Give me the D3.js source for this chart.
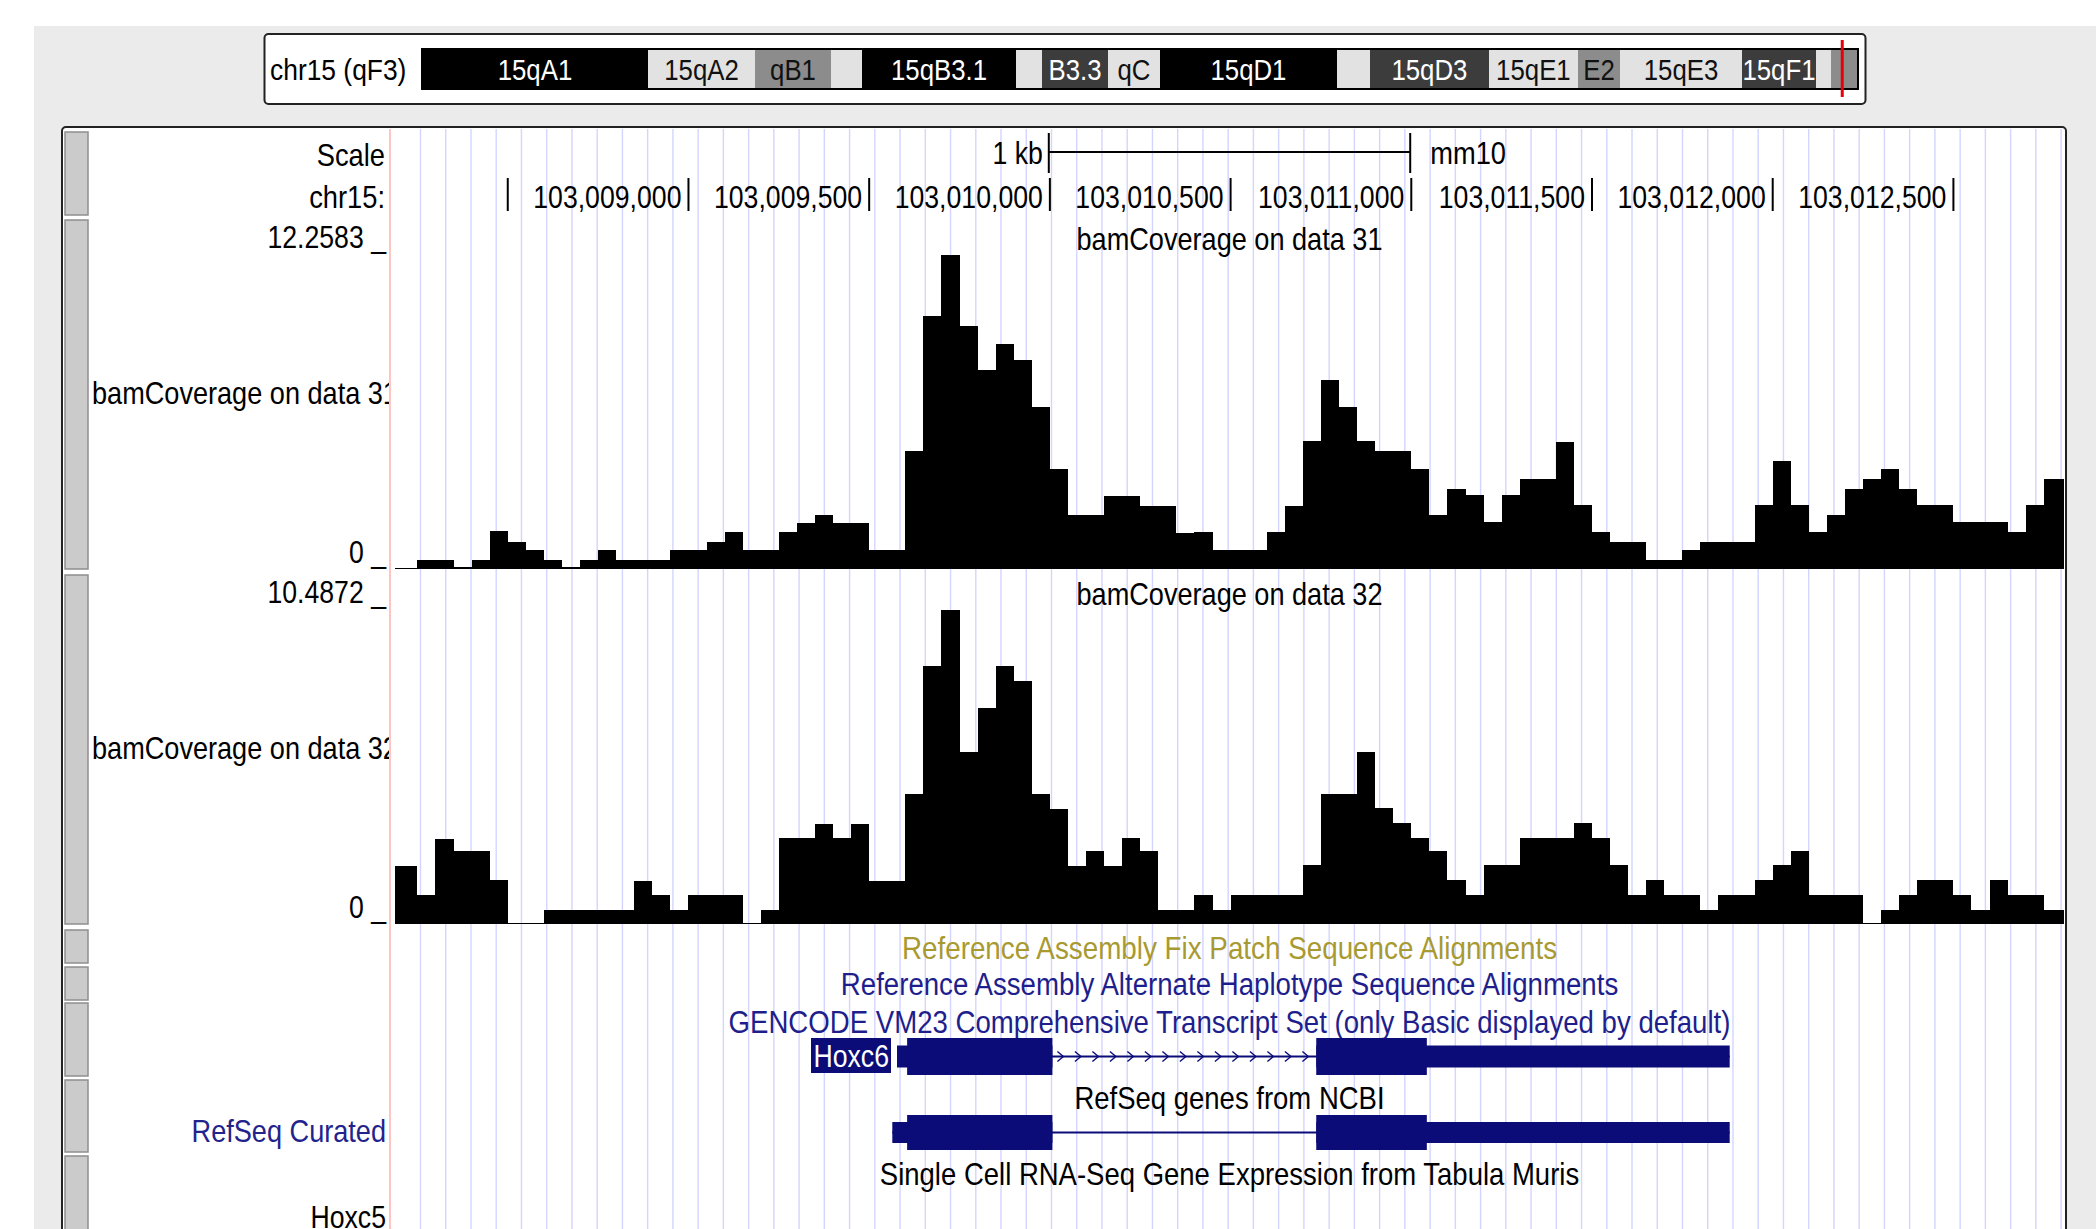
<!DOCTYPE html>
<html><head><meta charset="utf-8">
<script src="https://cdn.jsdelivr.net/npm/d3@7"></script>
<style>html,body{margin:0;padding:0;background:#fff;}svg{display:block;}</style>
</head><body>
<svg id="chart" width="2096" height="1229"></svg>
<script>
// ---------------- data ----------------
const chromName = "chr15 (qF3)";
const chromLenMb = 104.043685;
const bandNames  = ["15qA1","15qA2","qB1","","15qB3.1","","B3.3","qC","15qD1","","15qD3","15qE1","E2","15qE3","15qF1","",""];
const bandStart  = [0, 16.37, 24.13, 29.63, 31.88, 43.04, 44.92, 49.70, 53.47, 66.29, 68.68, 77.30, 83.75, 86.80, 95.64, 101.0, 102.08];
const bandEnd    = [16.37, 24.13, 29.63, 31.88, 43.04, 44.92, 49.70, 53.47, 66.29, 68.68, 77.30, 83.75, 86.80, 95.64, 101.0, 102.08, 104.043685];
const bandStain  = ["gpos100","gneg","gpos50","gneg","gpos100","gneg","gpos75","gneg","gpos100","gneg","gpos75","gneg","gpos50","gneg","gpos75","gneg","gpos50"];

const viewStart = 103008188, viewEnd = 103012806;
const rulerTicks  = [103008500,103009000,103009500,103010000,103010500,103011000,103011500,103012000,103012500];
const rulerLabels = ["","103,009,000","103,009,500","103,010,000","103,010,500","103,011,000","103,011,500","103,012,000","103,012,500"];

const binFirstStart = 103008150, binSize = 50;
const cov31 = [0.05,0.05,0.36,0.36,0.07,0.36,1.47,1.04,0.73,0.36,0.07,0.36,0.75,0.36,0.36,0.36,0.75,0.75,1.04,1.43,
  0.75,0.75,1.43,1.79,2.11,1.79,1.79,0.75,0.75,4.59,9.86,12.2583,9.49,7.75,8.79,8.14,6.31,3.91,2.09,2.09,
  2.86,2.86,2.47,2.47,1.40,1.43,0.75,0.75,0.75,1.43,2.47,4.98,7.36,6.32,4.98,4.59,4.59,3.90,2.09,3.13,
  2.87,1.82,2.87,3.52,3.52,4.95,2.48,1.43,1.04,1.04,0.36,0.36,0.75,1.04,1.04,1.04,2.48,4.20,2.48,1.43,
  2.09,3.13,3.52,3.91,3.13,2.48,2.48,1.82,1.82,1.82,1.43,2.48,3.52,3.52];
const cov32 = [1.94,1.94,0.97,2.83,2.44,2.44,1.47,0.05,0.05,0.47,0.47,0.47,0.47,0.47,1.45,0.97,0.47,0.97,0.97,0.97,
  0.05,0.47,2.86,2.86,3.34,2.86,3.34,1.45,1.45,4.33,8.61,10.4872,5.73,7.22,8.61,8.12,4.33,3.84,1.95,2.44,
  1.95,2.86,2.44,0.47,0.47,0.97,0.47,0.97,0.97,0.97,0.97,1.97,4.34,4.34,5.73,3.86,3.36,2.86,2.45,1.47,
  0.97,1.97,1.97,2.86,2.86,2.86,3.36,2.86,1.97,0.97,1.47,0.97,0.97,0.47,0.97,0.97,1.47,1.97,2.45,0.97,
  0.97,0.97,0.05,0.47,0.97,1.47,1.47,0.97,0.47,1.47,0.97,0.97,0.47,0.47];
const trackTitles = ["bamCoverage on data 31","bamCoverage on data 32"];
const trackMaxLabels = ["12.2583","10.4872"];
const trackMax = [12.2583, 10.4872];

const geneName = "Hoxc6";
const gencodeTx = [103009577, 103011881];
const refseqTx  = [103009564, 103011881];
const geneCds   = [103009605, 103011043];
const geneExons = [[103009564, 103010007],[103010737, 103011881]];

const centerLabels = ["Reference Assembly Fix Patch Sequence Alignments",
  "Reference Assembly Alternate Haplotype Sequence Alignments",
  "GENCODE VM23 Comprehensive Transcript Set (only Basic displayed by default)",
  "RefSeq genes from NCBI",
  "Single Cell RNA-Seq Gene Expression from Tabula Muris"];

// ---------------- drawing ----------------
const FONT = "'Liberation Sans', Arial, Helvetica, sans-serif";
const SX = 0.86;
const NAVY = "#0c0c78";
const svg = d3.select("#chart");

function txt(parent, x, y, s, o = {}) {
  return parent.append("text")
    .attr("transform", `translate(${x},${y}) scale(${o.sx || SX},1)`)
    .attr("font-family", FONT)
    .attr("font-size", o.size || 31)
    .attr("text-anchor", o.anchor || "start")
    .attr("fill", o.fill || "#000")
    .text(s);
}

// page background
svg.append("rect").attr("width", 2096).attr("height", 1229).attr("fill", "#fff");
svg.append("rect").attr("x", 34).attr("y", 26).attr("width", 2062).attr("height", 1203).attr("fill", "#ebebeb");

// ---- ideogram ----
const ideo = svg.append("g");
ideo.append("rect").attr("x", 264.5).attr("y", 34).attr("width", 1601).attr("height", 70)
  .attr("rx", 4).attr("fill", "#fff").attr("stroke", "#222").attr("stroke-width", 2);
txt(ideo, 270, 80, chromName, {size: 30, sx: 0.88});
const xb = d3.scaleLinear().domain([0, chromLenMb]).range([422, 1858]);
const stainFill = {gpos100: "#000", gpos75: "#3c3c3c", gpos50: "#8c8c8c", gneg: "#e2e2e2"};
const stainText = {gpos100: "#fff", gpos75: "#fff", gpos50: "#111", gneg: "#111"};
const bands = bandNames.map((n, i) => ({n, s: bandStart[i], e: bandEnd[i], st: bandStain[i]}));
ideo.selectAll("rect.band").data(bands).join("rect").attr("class", "band")
  .attr("x", d => xb(d.s)).attr("width", d => xb(d.e) - xb(d.s))
  .attr("y", 50).attr("height", 38).attr("fill", d => stainFill[d.st]).attr("shape-rendering", "crispEdges");
bands.forEach(d => { if (d.n) txt(ideo, (xb(d.s) + xb(d.e)) / 2, 80, d.n, {size: 30, anchor: "middle", fill: stainText[d.st]}); });
ideo.append("rect").attr("x", xb(0)).attr("y", 49).attr("width", xb(chromLenMb) - xb(0)).attr("height", 40)
  .attr("fill", "none").attr("stroke", "#000").attr("stroke-width", 2);
const viewMidMb = (viewStart + viewEnd) / 2 / 1e6;
ideo.append("rect").attr("x", xb(viewMidMb) - 3).attr("y", 40).attr("width", 3).attr("height", 57).attr("fill", "#e8000b");

// ---- main panel ----
svg.append("rect").attr("x", 62).attr("y", 127).attr("width", 2004).attr("height", 1130)
  .attr("rx", 4).attr("fill", "#fff").attr("stroke", "#222").attr("stroke-width", 2);

const x = d3.scaleLinear().domain([viewStart, viewEnd]).range([395, 2064]);
const dataL = 395, dataR = 2064;

// guidelines
const gl = svg.append("g");
for (let gx = 420.5; gx < dataR; gx += 25.24) {
  gl.append("line").attr("x1", gx).attr("x2", gx).attr("y1", 129).attr("y2", 1229)
    .attr("stroke", "#d4d4ff").attr("stroke-width", 1.4);
}
svg.append("line").attr("x1", 390).attr("x2", 390).attr("y1", 129).attr("y2", 1229)
  .attr("stroke", "#ffb0b0").attr("stroke-width", 1.5);

// left buttons
const buttons = [[132,215],[220,569],[575,924],[930,963],[967,1000],[1003,1076],[1080,1152],[1156,1240]];
svg.append("g").selectAll("rect").data(buttons).join("rect")
  .attr("x", 65).attr("y", d => d[0]).attr("width", 23).attr("height", d => d[1] - d[0])
  .attr("fill", "#cbcbcb").attr("stroke", "#8f8f8f").attr("stroke-width", 1.5);

// ---- ruler ----
const rul = svg.append("g");
txt(rul, 385, 166, "Scale", {anchor: "end", sx: 0.88});
txt(rul, 385, 208, "chr15:", {anchor: "end", sx: 0.88});
const mid = x.invert((dataL + dataR) / 2);
const sb0 = x(mid - 500), sb1 = x(mid + 500);
rul.append("line").attr("x1", sb0).attr("x2", sb1).attr("y1", 152).attr("y2", 152).attr("stroke", "#000").attr("stroke-width", 2);
[sb0, sb1].forEach(v => rul.append("line").attr("x1", v).attr("x2", v).attr("y1", 133).attr("y2", 173).attr("stroke", "#000").attr("stroke-width", 2));
txt(rul, sb0 - 6, 164, "1 kb", {anchor: "end"});
txt(rul, sb1 + 20, 164, "mm10", {sx: 0.88});
rulerTicks.forEach((t, i) => {
  rul.append("line").attr("x1", x(t)).attr("x2", x(t)).attr("y1", 178).attr("y2", 211).attr("stroke", "#000").attr("stroke-width", 2);
  if (rulerLabels[i]) txt(rul, x(t) - 7, 208, rulerLabels[i], {anchor: "end"});
});

// ---- coverage tracks ----
svg.append("defs").append("clipPath").attr("id", "dataClip")
  .append("rect").attr("x", dataL).attr("y", 0).attr("width", dataR - dataL).attr("height", 1229);
svg.select("defs").append("clipPath").attr("id", "labelClip")
  .append("rect").attr("x", 0).attr("y", 0).attr("width", 389).attr("height", 1229);

const tracks = [
  {data: cov31, top: 255, bottom: 569},
  {data: cov32, top: 610, bottom: 924}
];
tracks.forEach((tk, ti) => {
  const y = d3.scaleLinear().domain([0, trackMax[ti]]).range([tk.bottom, tk.top]);
  const g = svg.append("g");
  g.append("g").attr("clip-path", "url(#dataClip)").selectAll("rect").data(tk.data).join("rect")
    .attr("x", (d, i) => x(binFirstStart + i * binSize))
    .attr("width", (d, i) => x(binFirstStart + (i + 1) * binSize) - x(binFirstStart + i * binSize))
    .attr("y", d => y(d)).attr("height", d => y(0) - y(d))
    .attr("fill", "#000").attr("shape-rendering", "crispEdges");
  txt(g, (dataL + dataR) / 2, tk.top - 5, trackTitles[ti], {anchor: "middle", sx: 0.875});
  txt(g, 386, tk.top - 7, trackMaxLabels[ti] + " _", {anchor: "end"});
  txt(g, 386, tk.bottom - 6, "0 _", {anchor: "end"});
  const lab = g.append("g").attr("clip-path", "url(#labelClip)");
  txt(lab, 92, (tk.top - 30 + tk.bottom) / 2 + 7, trackTitles[ti], {sx: 0.875});
});

// ---- annotation tracks ----
const ann = svg.append("g");
const cx0 = (dataL + dataR) / 2;
txt(ann, cx0, 959, centerLabels[0], {anchor: "middle", fill: "#a89a30", sx: 0.897});
txt(ann, cx0, 995, centerLabels[1], {anchor: "middle", fill: "#1e1e8c", sx: 0.892});
txt(ann, cx0, 1033, centerLabels[2], {anchor: "middle", fill: "#1e1e8c", sx: 0.891});
txt(ann, cx0, 1109, centerLabels[3], {anchor: "middle", sx: 0.887});
txt(ann, cx0, 1185, centerLabels[4], {anchor: "middle", sx: 0.887});
txt(ann, 386, 1142, "RefSeq Curated", {anchor: "end", fill: "#23238c", sx: 0.875});
txt(ann, 386, 1228, "Hoxc5", {anchor: "end"});

function drawGene(g, tx, cy, thick, thin, chevrons) {
  g.append("line").attr("x1", x(tx[0])).attr("x2", x(tx[1])).attr("y1", cy).attr("y2", cy)
    .attr("stroke", NAVY).attr("stroke-width", 2);
  if (chevrons) {
    const a = x(geneExons[0][1]), b = x(geneExons[1][0]);
    for (let cx = a + 8; cx < b - 6; cx += 17.5) {
      g.append("path").attr("d", `M${cx - 3},${cy - 5} L${cx + 3},${cy} L${cx - 3},${cy + 5}`)
        .attr("fill", "none").attr("stroke", NAVY).attr("stroke-width", 1.4);
    }
  }
  geneExons.forEach((ex) => {
    const s = Math.max(ex[0], tx[0]), e = Math.min(ex[1], tx[1]);
    g.append("rect").attr("x", x(s)).attr("width", x(e) - x(s)).attr("y", cy - thin).attr("height", 2 * thin).attr("fill", NAVY);
    const cs = Math.max(s, geneCds[0]), ce = Math.min(e, geneCds[1]);
    if (ce > cs) g.append("rect").attr("x", x(cs)).attr("width", x(ce) - x(cs)).attr("y", cy - thick).attr("height", 2 * thick).attr("fill", NAVY);
  });
}
drawGene(ann, gencodeTx, 1056.5, 18.5, 11, true);
drawGene(ann, refseqTx, 1132.5, 17.5, 10.5, false);
const lbR = x(gencodeTx[0]) - 6;
ann.append("rect").attr("x", lbR - 80).attr("y", 1038).attr("width", 80).attr("height", 35).attr("fill", NAVY);
txt(ann, lbR - 2, 1067, geneName, {anchor: "end", fill: "#fff"});
</script>
</body></html>
